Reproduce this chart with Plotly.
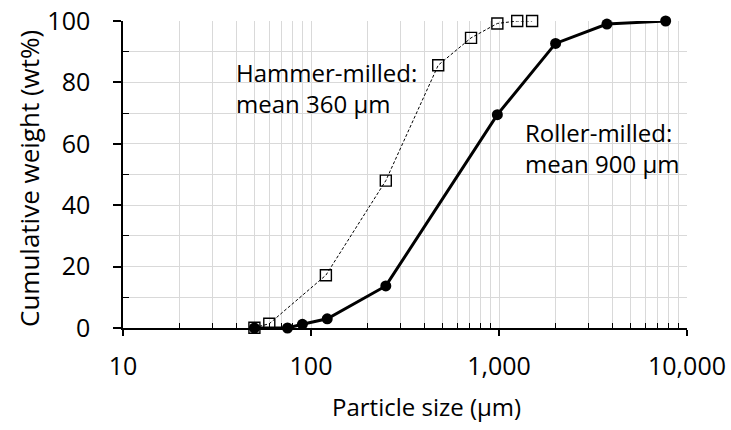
import plotly.graph_objects as go

# Data
hammer_size = [50, 60, 120, 250, 475, 710, 980, 1250, 1500]
hammer_cum = [0.1, 1.4, 17.2, 48.0, 85.6, 94.5, 99.2, 100.0, 100.0]
roller_size = [50, 75, 90, 122, 250, 980, 2000, 3750, 7700]
roller_cum = [0.0, 0.0, 1.2, 3.0, 13.7, 69.5, 92.7, 99.0, 100.0]

x_major = [10, 100, 1000, 10000]
x_major_text = ["10", "100", "1,000", "10,000"]
x_minor = [m * d for d in (10, 100, 1000) for m in range(2, 10)]
y_major = [0, 20, 40, 60, 80, 100]
y_minor = [10, 30, 50, 70, 90]

FONT = "Open Sans"
GRID = "#d9d9d9"

fig = go.Figure()
fig.add_trace(go.Scatter(
    x=hammer_size, y=hammer_cum, mode="lines+markers",
    line=dict(color="black", width=1, dash="3px,2px"),
    marker=dict(symbol="square-open", size=11, color="black", line=dict(width=1.4, color="black")),
    cliponaxis=False, showlegend=False, name="Hammer-milled"))
fig.add_trace(go.Scatter(
    x=roller_size, y=roller_cum, mode="lines+markers",
    line=dict(color="black", width=3),
    marker=dict(symbol="circle", size=11, color="black"),
    cliponaxis=False, showlegend=False, name="Roller-milled"))

# plot-area pixel geometry (for paper-coordinate placement of boxes and titles)
L, R, T, B = 123.0, 687.0, 21.0, 328.0
W, H = R - L, B - T
def px(xp):
    return (xp - L) / W
def py(yp):
    return (B - yp) / H

fig.add_shape(type="rect", xref="paper", yref="paper", layer="between",
              x0=px(222), x1=px(403), y0=py(128), y1=py(43),
              fillcolor="white", line=dict(width=0))
fig.add_shape(type="rect", xref="paper", yref="paper", layer="between",
              x0=px(508), x1=px(687), y0=py(182), y1=py(102),
              fillcolor="white", line=dict(width=0))

fig.add_annotation(xref="paper", yref="paper", x=px(234), y=py(88), xanchor="left", yanchor="middle",
                   text="Hammer-milled:<br>mean 360 µm", showarrow=False, align="left",
                   font=dict(family=FONT, size=24, color="black"))
fig.add_annotation(xref="paper", yref="paper", x=px(523), y=py(148), xanchor="left", yanchor="middle",
                   text="Roller-milled:<br>mean 900 µm", showarrow=False, align="left",
                   font=dict(family=FONT, size=24, color="black"))

# axis titles
fig.add_annotation(xref="paper", yref="paper", x=px(426), y=py(406), xanchor="center", yanchor="middle",
                   text="Particle size (µm)", showarrow=False,
                   font=dict(family=FONT, size=24, color="black"))
fig.add_annotation(xref="paper", yref="paper", x=px(29), y=py(179), xanchor="center", yanchor="middle",
                   text="Cumulative weight (wt%)", showarrow=False, textangle=-90,
                   font=dict(family=FONT, size=26, color="black"))

fig.update_layout(
    width=731, height=430,
    margin=dict(l=123, r=44, t=21, b=102),
    plot_bgcolor="white", paper_bgcolor="white",
    font=dict(family=FONT, size=24, color="black"),
    xaxis=dict(
        type="log", range=[1, 4], automargin=False,
        tickvals=x_major, ticktext=x_major_text,
        ticks="outside", ticklen=6, tickwidth=1.5, tickcolor="black",
        ticklabelstandoff=9,
        showline=True, linecolor="black", linewidth=1.5,
        showgrid=True, gridcolor=GRID, gridwidth=1,
        minor=dict(tickvals=x_minor, ticks="inside", ticklen=5, tickwidth=1.2, tickcolor="black",
                   showgrid=True, gridcolor=GRID, gridwidth=1),
        tickfont=dict(size=25),
        zeroline=False,
    ),
    yaxis=dict(
        range=[0, 100], automargin=False,
        tickvals=y_major,
        ticks="outside", ticklen=8, tickwidth=1.5, tickcolor="black",
        ticklabelstandoff=18,
        showline=True, linecolor="black", linewidth=1.5,
        showgrid=True, gridcolor=GRID, gridwidth=1,
        minor=dict(tickvals=y_minor, ticks="inside", ticklen=6, tickwidth=1.2, tickcolor="black",
                   showgrid=True, gridcolor=GRID, gridwidth=1),
        tickfont=dict(size=25),
        zeroline=False,
    ),
)

fig.write_html("out.html", config={"displayModeBar": False},
               post_script="document.body.style.margin='0';document.body.style.overflow='hidden';")
